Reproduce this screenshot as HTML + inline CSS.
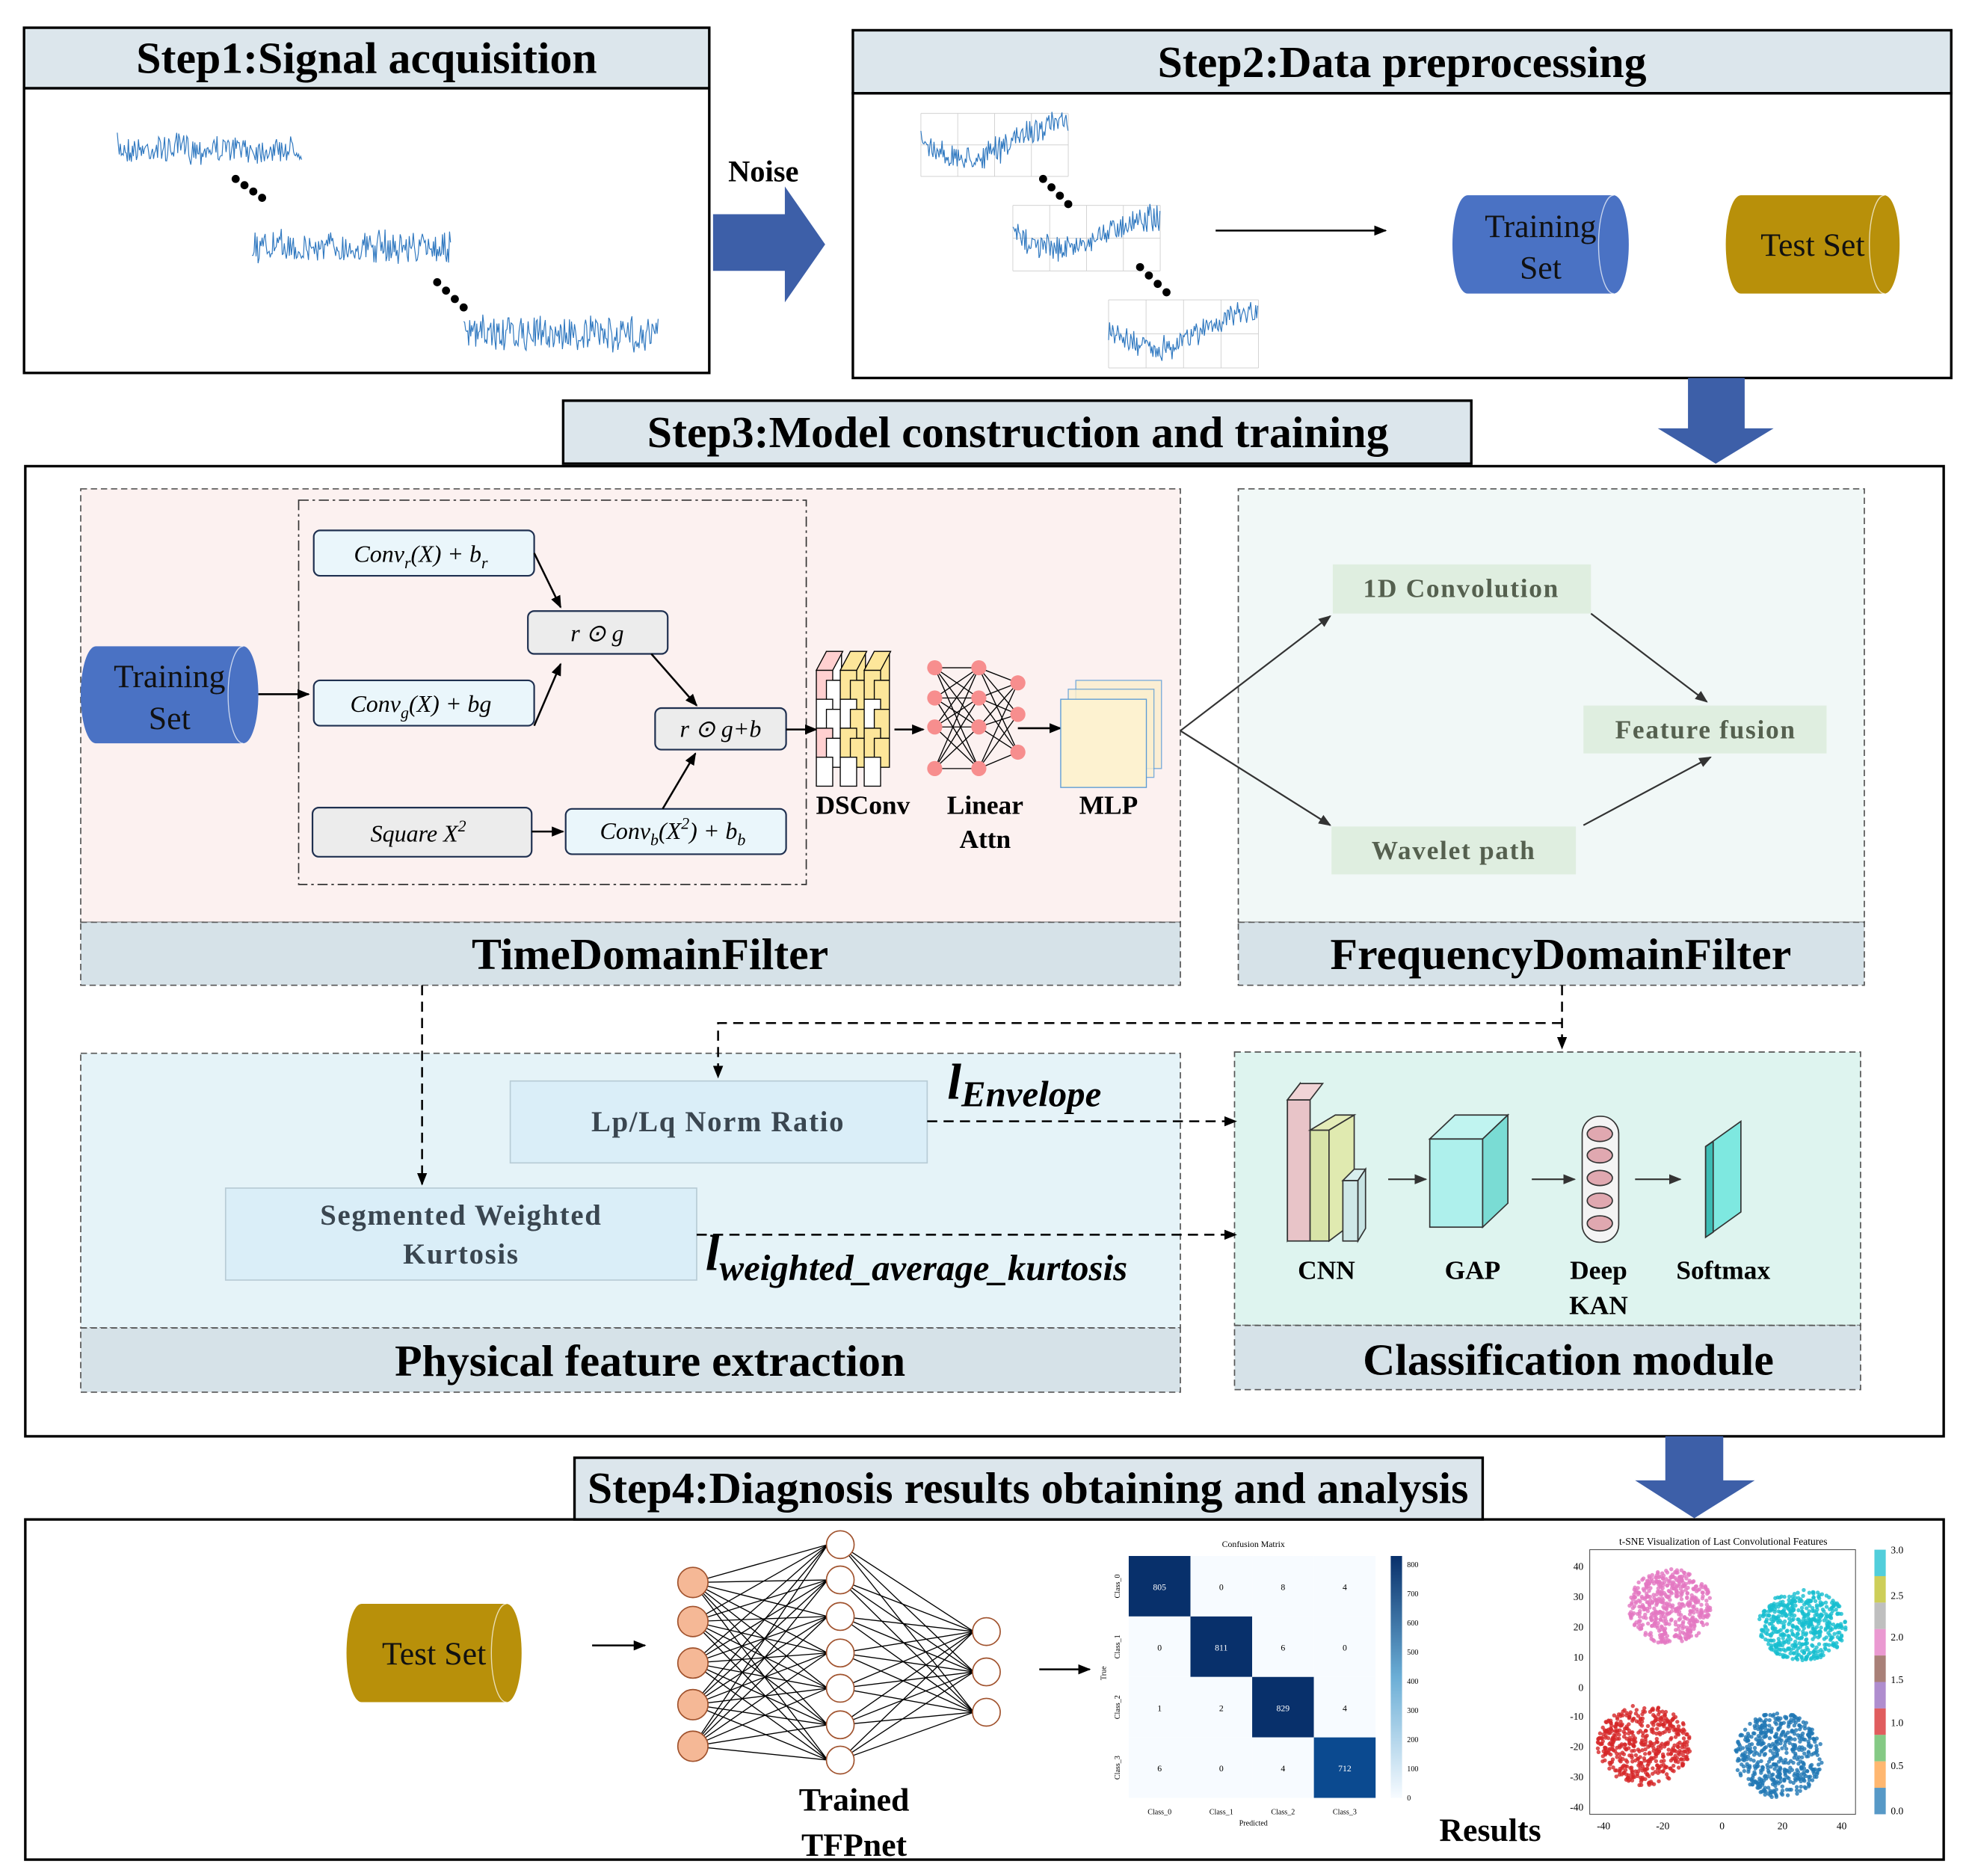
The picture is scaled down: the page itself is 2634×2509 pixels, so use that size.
<!DOCTYPE html>
<html><head><meta charset="utf-8"><style>
html,body{margin:0;padding:0;background:#fff;}
svg{display:block;}
text{font-family:"Liberation Serif",serif;}
.h{font-weight:bold;font-size:35.5px;text-anchor:middle;}
.lb{font-weight:bold;font-size:35.5px;text-anchor:middle;}
.m{font-style:italic;font-size:19px;text-anchor:middle;}
.g{font-weight:bold;font-size:21px;text-anchor:middle;fill:#55604f;letter-spacing:1px;}
.p{font-weight:bold;font-size:23px;text-anchor:middle;fill:#3a4650;letter-spacing:1px;}
.s{font-weight:bold;font-size:21px;text-anchor:middle;}
</style></head><body>
<svg id="s" width="2634" height="2509" viewBox="0 0 1563 1489" xmlns="http://www.w3.org/2000/svg">
<defs>
<marker id="a" markerWidth="10" markerHeight="8" refX="9" refY="4" orient="auto" markerUnits="userSpaceOnUse"><path d="M0,0L10,4L0,8Z" fill="#000"/></marker>
<marker id="a2" markerWidth="10" markerHeight="8" refX="9" refY="4" orient="auto" markerUnits="userSpaceOnUse"><path d="M0,0L10,4L0,8Z" fill="#333"/></marker>
</defs>
<rect x="19" y="70" width="544" height="226" fill="#fff" stroke="#000" stroke-width="2"/>
<rect x="19" y="22" width="544" height="48" fill="#dce6ec" stroke="#000" stroke-width="2"/>
<text class="h" x="291" y="58">Step1:Signal acquisition</text>
<g id="sig1"></g>
<text x="606" y="144" font-weight="bold" font-size="24" text-anchor="middle">Noise</text>
<path d="M566,170H623V148L655,194L623,240V215H566Z" fill="#3d5fa8"/>
<rect x="677" y="74" width="872" height="226" fill="#fff" stroke="#000" stroke-width="2"/>
<rect x="677" y="24" width="872" height="50" fill="#dce6ec" stroke="#000" stroke-width="2"/>
<text class="h" x="1113" y="61">Step2:Data preprocessing</text>
<line x1="965" y1="183" x2="1100" y2="183" stroke="#000" stroke-width="1.5" marker-end="url(#a)"/>
<g id="cyls"></g>
<path d="M1340,300H1385V340H1408L1362,368L1316,340H1340Z" fill="#3d5fa8"/>
<rect x="20" y="370" width="1523" height="770" fill="#fff" stroke="#000" stroke-width="2"/>
<rect x="447" y="318" width="721" height="50" fill="#dce6ec" stroke="#000" stroke-width="2"/>
<text class="h" x="808" y="355">Step3:Model construction and training</text>
<g stroke="#555" stroke-dasharray="5,3" stroke-width="1">
<rect x="64" y="388" width="873" height="344" fill="#fcf1f0"/>
<rect x="64" y="732" width="873" height="50" fill="#d6e2e8"/>
<rect x="983" y="388" width="497" height="344" fill="#f1f8f7"/>
<rect x="983" y="732" width="497" height="50" fill="#d6e2e8"/>
<rect x="64" y="836" width="873" height="218" fill="#e5f3f8"/>
<rect x="64" y="1054" width="873" height="51" fill="#d6e2e8"/>
<rect x="980" y="835" width="497" height="217" fill="#def4ef"/>
<rect x="980" y="1052" width="497" height="51" fill="#d6e2e8"/>
</g>
<text class="lb" x="516" y="769">TimeDomainFilter</text>
<text class="lb" x="1239" y="769">FrequencyDomainFilter</text>
<text class="lb" x="516" y="1092">Physical feature extraction</text>
<text class="lb" x="1245" y="1091">Classification module</text>
<g id="cyl2"></g>
<rect x="237" y="397" width="403" height="305" fill="none" stroke="#333" stroke-dasharray="8,3,2,3"/>
<g stroke="#1f3050" stroke-width="1.3">
<rect x="249" y="421" width="175" height="36" rx="5" fill="#eaf6fb"/>
<rect x="419" y="485" width="111" height="34" rx="5" fill="#ececec"/>
<rect x="249" y="540" width="175" height="36" rx="5" fill="#eaf6fb"/>
<rect x="520" y="562" width="104" height="33" rx="5" fill="#ececec"/>
<rect x="248" y="641" width="174" height="39" rx="5" fill="#ececec"/>
<rect x="449" y="642" width="175" height="36" rx="5" fill="#eaf6fb"/>
</g>
<text class="m" x="334" y="446">Conv<tspan font-size="13" dy="5">r</tspan><tspan dy="-5">(X) + b</tspan><tspan font-size="13" dy="5">r</tspan></text>
<text class="m" x="474" y="509">r ⊙ g</text>
<text class="m" x="334" y="565">Conv<tspan font-size="13" dy="5">g</tspan><tspan dy="-5">(X) + bg</tspan></text>
<text class="m" x="572" y="585">r ⊙ g+b</text>
<text class="m" x="332" y="668">Square  X<tspan font-size="13" dy="-8">2</tspan></text>
<text class="m" x="534" y="666">Conv<tspan font-size="13" dy="5">b</tspan><tspan dy="-5">(X</tspan><tspan font-size="13" dy="-8">2</tspan><tspan dy="8">) + b</tspan><tspan font-size="13" dy="5">b</tspan></text>
<g stroke="#000" stroke-width="1.5" fill="none">
<path d="M424,439L445,482" marker-end="url(#a)"/>
<path d="M424,576L445,527" marker-end="url(#a)"/>
<path d="M517,519L553,560" marker-end="url(#a)"/>
<path d="M422,660H447" marker-end="url(#a)"/>
<path d="M526,642L552,598" marker-end="url(#a)"/>
<path d="M205,551H245" marker-end="url(#a)"/>
<path d="M624,579H648" marker-end="url(#a)"/>
<path d="M710,579H733" marker-end="url(#a)"/>
<path d="M808,578H842" marker-end="url(#a)"/>
</g>
<g id="dsc"></g>
<g id="nn1"></g>
<g stroke="#5b9bd5" stroke-width="0.8">
<rect x="854" y="540" width="68" height="70" fill="#fbeecd" opacity="0.8"/>
<rect x="848" y="547" width="68" height="70" fill="#fcf0cf" opacity="0.8"/>
<rect x="842" y="555" width="68" height="70" fill="#fdf2d0"/>
</g>
<text class="s" x="685" y="646">DSConv</text>
<text class="s" x="782" y="646">Linear</text>
<text class="s" x="782" y="673">Attn</text>
<text class="s" x="880" y="646">MLP</text>
<g fill="#dfeee0">
<rect x="1058" y="448" width="205" height="39"/>
<rect x="1257" y="560" width="193" height="38"/>
<rect x="1057" y="656" width="194" height="38"/>
</g>
<text class="g" x="1160" y="474">1D Convolution</text>
<text class="g" x="1354" y="586">Feature fusion</text>
<text class="g" x="1154" y="682">Wavelet path</text>
<g stroke="#333" stroke-width="1.3" fill="none">
<path d="M937,580L1056,489" marker-end="url(#a2)"/>
<path d="M937,580L1056,655" marker-end="url(#a2)"/>
<path d="M1263,487L1355,557" marker-end="url(#a2)"/>
<path d="M1257,655L1358,601" marker-end="url(#a2)"/>
</g>
<rect x="405" y="858" width="331" height="65" fill="#daeef8" stroke="#b8ccd6"/>
<rect x="179" y="943" width="374" height="73" fill="#daeef8" stroke="#b8ccd6"/>
<text class="p" x="570" y="898">Lp/Lq Norm Ratio</text>
<text class="p" x="366" y="972">Segmented Weighted</text>
<text class="p" x="366" y="1003">Kurtosis</text>
<g stroke="#000" stroke-width="1.5" fill="none" stroke-dasharray="8,5">
<path d="M335,782V940" marker-end="url(#a)"/>
<path d="M1240,782V832" marker-end="url(#a)"/>
<path d="M1240,812H570V855" marker-end="url(#a)"/>
<path d="M736,890H981" marker-end="url(#a)"/>
<path d="M553,980H981" marker-end="url(#a)"/>
</g>
<text x="752" y="872" font-weight="bold" font-style="italic" font-size="40">l<tspan font-size="29" dy="6">Envelope</tspan></text>
<text x="560" y="1008" font-weight="bold" font-style="italic" font-size="40">l<tspan font-size="29" dy="8">weighted_average_kurtosis</tspan></text>
<g stroke="#333" stroke-width="1">
<path d="M1022,873L1032,860V975L1022,985Z" fill="#eee"/>
<rect x="1022" y="873" width="18" height="112" fill="#e8c4c8"/>
<path d="M1022,873L1032,860H1050L1040,873Z" fill="#f0d4d6"/>
<rect x="1040" y="897" width="15" height="88" fill="#d8e4a8"/>
<path d="M1040,897L1060,885H1075L1055,897Z" fill="#e4ecb8"/>
<path d="M1055,897L1075,885V970L1055,985Z" fill="#e0eab0"/>
<rect x="1066" y="937" width="12" height="48" fill="#cfe8e8"/>
<path d="M1066,937L1075,928H1084L1078,937Z" fill="#d8eeee"/>
<path d="M1078,937L1084,928V975L1078,985Z" fill="#c8e4e4"/>
<rect x="1135" y="904" width="42" height="70" fill="#aef0ec"/>
<path d="M1135,904L1155,885H1197L1177,904Z" fill="#c0f4f0"/>
<path d="M1177,904L1197,885V955L1177,974Z" fill="#7adcd4"/>
<rect x="1256" y="886" width="29" height="100" rx="14" fill="#f4f4f4"/>
<path d="M1354,910L1382,890V962L1354,982Z" fill="#7ee8e0"/>
<path d="M1354,910L1360,906V978L1354,982Z" fill="#3cbcb4"/>
</g>
<g fill="#e0a8b0" stroke="#333" stroke-width="1">
<ellipse cx="1270" cy="900" rx="10" ry="6"/><ellipse cx="1270" cy="917" rx="10" ry="6"/><ellipse cx="1270" cy="935" rx="10" ry="6"/><ellipse cx="1270" cy="953" rx="10" ry="6"/><ellipse cx="1270" cy="971" rx="10" ry="6"/>
</g>
<g stroke="#333" stroke-width="1.3" fill="none">
<path d="M1102,936H1132" marker-end="url(#a2)"/>
<path d="M1216,936H1250" marker-end="url(#a2)"/>
<path d="M1298,936H1334" marker-end="url(#a2)"/>
</g>
<text class="s" x="1053" y="1015">CNN</text>
<text class="s" x="1169" y="1015">GAP</text>
<text class="s" x="1269" y="1015">Deep</text>
<text class="s" x="1269" y="1043">KAN</text>
<text class="s" x="1368" y="1015">Softmax</text>
<path d="M1322,1140H1368V1175H1393L1345,1205L1298,1175H1322Z" fill="#3d5fa8"/>
<rect x="20" y="1206" width="1523" height="270" fill="#fff" stroke="#000" stroke-width="2"/>
<rect x="456" y="1157" width="721" height="49" fill="#dce6ec" stroke="#000" stroke-width="2"/>
<text class="h" x="816" y="1193">Step4:Diagnosis results obtaining and analysis</text>
<line x1="470" y1="1306" x2="512" y2="1306" stroke="#000" stroke-width="1.5" marker-end="url(#a)"/>
<line x1="825" y1="1325" x2="865" y2="1325" stroke="#000" stroke-width="1.5" marker-end="url(#a)"/>
<g id="nn2"></g>
<text class="lb" x="678" y="1437" style="font-size:26px">Trained</text>
<text class="lb" x="678" y="1473" style="font-size:26px">TFPnet</text>
<text class="lb" x="1183" y="1461" style="font-size:26px">Results</text>
<g id="cm"></g>
<g id="ts"></g>
</svg>
<script>
var NS="http://www.w3.org/2000/svg",seed=7;
function R(){seed=(seed*16807)%2147483647;return seed/2147483647;}
function el(p,t,a,txt){var e=document.createElementNS(NS,t);for(var k in a)e.setAttribute(k,a[k]);if(txt!==undefined)e.textContent=txt;document.getElementById(p).appendChild(e);return e;}
function sig(p,x0,x1,y,amp,drift){var d="M";for(var x=x0;x<=x1;x+=0.8){var v=(R()-0.5)*2*amp*(0.6+0.6*R());var dr=drift?drift*Math.sin((x-x0)/(x1-x0)*Math.PI*1.6):0;d+=x.toFixed(1)+","+(y+v+dr).toFixed(1)+" L";}
el(p,"path",{d:d.slice(0,-2),fill:"none",stroke:"#2f78c0","stroke-width":0.7});}
function dots(p,x0,y0,x1,y1){for(var i=0;i<4;i++)el(p,"circle",{cx:x0+(x1-x0)*i/3,cy:y0+(y1-y0)*i/3,r:3.2,fill:"#000"});}
sig("sig1",93,240,118,11);sig("sig1",200,358,196,13);sig("sig1",368,523,265,14);
dots("sig1",187,142,208,157);dots("sig1",347,224,368,244);
function grid(x0,y0,w,h){for(var i=0;i<=4;i++){el("cyls","line",{x1:x0+w*i/4,y1:y0,x2:x0+w*i/4,y2:y0+h,stroke:"#ccc","stroke-width":0.5});}for(var j=0;j<=2;j++){el("cyls","line",{x1:x0,y1:y0+h*j/2,x2:x0+w,y2:y0+h*j/2,stroke:"#ccc","stroke-width":0.5});}}
grid(731,90,117,50);grid(804,163,117,52);grid(880,238,119,54);
sig("cyls",731,848,112,10,14);sig("cyls",804,921,185,10,12);sig("cyls",880,999,262,10,14);
dots("cyls",828,142,848,162);dots("cyls",905,212,926,232);
function cyl(p,x0,x1,y0,y1,c,lines){var ry=(y1-y0)/2,rx=12;
el(p,"path",{d:"M"+(x0+rx)+","+y0+"H"+(x1-rx)+"A"+rx+","+ry+" 0 0 1 "+(x1-rx)+","+y1+"H"+(x0+rx)+"A"+rx+","+ry+" 0 0 1 "+(x0+rx)+","+y0+"Z",fill:c});
el(p,"path",{d:"M"+(x1-rx)+","+y0+"A"+rx+","+ry+" 0 0 0 "+(x1-rx)+","+y1,fill:"none",stroke:"#fff","stroke-width":0.8,opacity:0.7});
var cx=(x0+x1)/2;lines.forEach(function(t,i){el(p,"text",{x:cx,y:(lines.length==1?(y0+y1)/2+9:(y0+y1)/2-6+i*33),"text-anchor":"middle","font-size":26,fill:"#111"},t);});}
cyl("cyls",1153,1293,155,233,"#4a72c4",["Training","Set"]);
cyl("cyls",1370,1508,155,233,"#b8900a",["Test Set"]);
cyl("cyl2",64,205,513,590,"#4a72c4",["Training","Set"]);
cyl("nn2",275,414,1273,1351,"#b8900a",["Test Set"]);
var cols=[["#ffd0d0","#fff","#ffd0d0","#fff"],["#fde69a","#fff","#fde69a","#fff"],["#fde69a","#fff","#fde69a","#fff"]];
for(var c=0;c<3;c++){var x=648+c*19;for(var r=0;r<4;r++){var y=532+r*23;el("dsc","rect",{x:x+8,y:y-15,width:12,height:23,fill:c==0?"#fff":"#fde69a",stroke:"#000","stroke-width":0.8});el("dsc","rect",{x:x,y:y,width:13,height:23,fill:cols[c][r],stroke:"#000","stroke-width":0.8});}
el("dsc","path",{d:"M"+x+",532L"+(x+8)+",517H"+(x+21)+"L"+(x+13)+",532Z",fill:cols[c][0],stroke:"#000","stroke-width":0.8});}
var L=[[742,[530,554,577,610]],[777,[530,554,577,610]],[808,[542,567,597]]];
for(var i=0;i<2;i++)L[i][1].forEach(function(a){L[i+1][1].forEach(function(b){el("nn1","line",{x1:L[i][0],y1:a,x2:L[i+1][0],y2:b,stroke:"#000","stroke-width":0.8});});});
L.forEach(function(l){l[1].forEach(function(y){el("nn1","circle",{cx:l[0],cy:y,r:6,fill:"#f78e8e"});});});
var A=[550,[1256,1287,1320,1353,1386]],B=[667,[1226,1254,1283,1312,1340,1369,1397]],C=[783,[1295,1327,1359]];
[[A,B],[B,C]].forEach(function(pr){pr[0][1].forEach(function(a){pr[1][1].forEach(function(b){el("nn2","line",{x1:pr[0][0],y1:a,x2:pr[1][0]-10,y2:b,stroke:"#000","stroke-width":0.8});});});});
A[1].forEach(function(y){el("nn2","circle",{cx:550,cy:y,r:12,fill:"#f5b896",stroke:"#a0522d","stroke-width":1});});
B[1].forEach(function(y){el("nn2","circle",{cx:667,cy:y,r:11,fill:"#fff",stroke:"#a0522d","stroke-width":1});});
C[1].forEach(function(y){el("nn2","circle",{cx:783,cy:y,r:11,fill:"#fff",stroke:"#a0522d","stroke-width":1});});
var M=[[805,0,8,4],[0,811,6,0],[1,2,829,4],[6,0,4,712]],x0=896,y0=1235,cw=49,ch=48;
el("cm","text",{x:995,y:1228,"font-size":7,"text-anchor":"middle","font-family":"Liberation Sans"},"Confusion Matrix");
for(var i=0;i<4;i++)for(var j=0;j<4;j++){var d=i==j;el("cm","rect",{x:x0+j*cw,y:y0+i*ch,width:cw,height:ch,fill:d?(i==3?"#0b4a90":"#08306b"):"#f7fbff"});
el("cm","text",{x:x0+j*cw+cw/2,y:y0+i*ch+ch/2+3,"font-size":7,"text-anchor":"middle",fill:d?"#fff":"#000","font-family":"Liberation Sans"},M[i][j]);}
for(var i=0;i<4;i++){el("cm","text",{x:x0+i*cw+cw/2,y:1440,"font-size":6,"text-anchor":"middle","font-family":"Liberation Sans"},"Class_"+i);
el("cm","text",{x:889,y:y0+i*ch+ch/2,"font-size":6,"text-anchor":"middle","font-family":"Liberation Sans",transform:"rotate(-90 889 "+(y0+i*ch+ch/2)+")"},"Class_"+i);}
el("cm","text",{x:995,y:1449,"font-size":6,"text-anchor":"middle","font-family":"Liberation Sans"},"Predicted");
el("cm","text",{x:878,y:1328,"font-size":6,"text-anchor":"middle","font-family":"Liberation Sans",transform:"rotate(-90 878 1328)"},"True");
var lg=el("cm","linearGradient",{id:"cb",x1:0,y1:1,x2:0,y2:0});
[["0","#f7fbff"],["0.5","#6baed6"],["1","#08306b"]].forEach(function(s){var st=document.createElementNS(NS,"stop");st.setAttribute("offset",s[0]);st.setAttribute("stop-color",s[1]);lg.appendChild(st);});
el("cm","rect",{x:1104,y:1235,width:9,height:192,fill:"url(#cb)"});
[0,100,200,300,400,500,600,700,800].forEach(function(v){var y=1427-v/830*192;el("cm","text",{x:1117,y:y+2,"font-size":6,"font-family":"Liberation Sans"},v);});
el("ts","text",{x:1368,y:1226,"font-size":8,"text-anchor":"middle","font-family":"Liberation Sans"},"t-SNE Visualization of Last Convolutional Features");
el("ts","rect",{x:1262,y:1230,width:211,height:210,fill:"#fff",stroke:"#444","stroke-width":0.6});
function cl(cx,cy,rx,ry,col,n){for(var k=0;k<n;k++){var a=R()*6.283,r=Math.sqrt(R());el("ts","circle",{cx:cx+Math.cos(a)*rx*r,cy:cy+Math.sin(a)*ry*r,r:1.6,fill:col,opacity:0.8});}}
cl(1326,1275,33,30,"#e377c2",500);cl(1431,1290,35,28,"#17becf",500);cl(1305,1385,37,32,"#d62728",500);cl(1412,1393,35,34,"#1f77b4",500);
[[40,1243],[30,1267],[20,1291],[10,1315],[0,1339],[-10,1362],[-20,1386],[-30,1410],[-40,1434]].forEach(function(t){el("ts","text",{x:1257,y:t[1]+3,"font-size":8,"text-anchor":"end","font-family":"Liberation Sans"},t[0]);});
[[-40,1273],[-20,1320],[0,1367],[20,1415],[40,1462]].forEach(function(t){el("ts","text",{x:t[1],y:1452,"font-size":8,"text-anchor":"middle","font-family":"Liberation Sans"},t[0]);});
var cc=["#1f77b4","#ff9f40","#5cb85c","#d62728","#9467bd","#8c564b","#e377c2","#aaaaaa","#bcbd22","#17becf"];
for(var i=0;i<10;i++)el("ts","rect",{x:1488,y:1230+i*21,width:9,height:21,fill:cc[9-i],opacity:0.75});
[["3.0",1233],["2.5",1269],["2.0",1302],["1.5",1336],["1.0",1370],["0.5",1404],["0.0",1440]].forEach(function(t){el("ts","text",{x:1501,y:t[1],"font-size":8,"font-family":"Liberation Sans"},t[0]);});
</script>
</body></html>
